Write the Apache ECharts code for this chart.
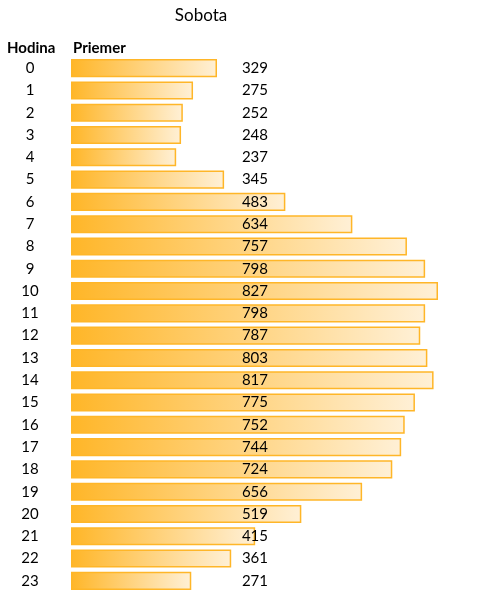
<!DOCTYPE html>
<html lang="sk">
	<head>
		<meta charset="utf-8" />
		<title>Sobota</title>
		<script type="text/javascript" src="https://cdn.jsdelivr.net/npm/echarts@6/dist/echarts.min.js"></script>
		<style>
			html, body { margin: 0; padding: 0; background: #fff; }
			#chart { width: 502px; height: 595px; }
		</style>
	</head>
	<body>
		<div id="chart"></div>
		<script type="text/javascript">
			//hodiny
			const hours = ['0','1','2','3','4','5','6','7','8','9','10','11','12','13','14','15','16','17','18','19','20','21','22','23'];
			//priemer
			const averages = [329,275,252,248,237,345,483,634,757,798,827,798,787,803,817,775,752,744,724,656,519,415,361,271];

			const font = 'Lato, "Open Sans", sans-serif';
			const chart = echarts.init(document.getElementById('chart'));
			const opt = {
				animation: false,
				title: [{
					text: 'Sobota',
					left: 201,
					top: 7,
					padding: 0,
					textAlign: 'center',
					textStyle: { fontFamily: font, fontSize: 17, fontWeight: 'normal', color: '#000' }
				}, {
					text: 'Hodina',
					left: 7,
					top: 41,
					padding: 0,
					textStyle: { fontFamily: font, fontSize: 15, fontWeight: 'bold', color: '#000' }
				}, {
					text: 'Priemer',
					left: 73,
					top: 41,
					padding: 0,
					textStyle: { fontFamily: font, fontSize: 15, fontWeight: 'bold', color: '#000' }
				}],
				grid: { left: 71, right: 31.6, top: 57, bottom: 3 },
				xAxis: {
					type: 'value',
					min: 0,
					max: 900,
					show: false
				},
				yAxis: {
					type: 'category',
					inverse: true,
					data: hours,
					axisLine: { show: false },
					axisTick: { show: false },
					splitLine: { show: false },
					axisLabel: {
						align: 'center',
						margin: 41,
						fontFamily: font,
						fontSize: 15,
						color: '#000'
					}
				},
				series: [{
					type: 'bar',
					data: averages,
					barCategoryGap: '19%',
					itemStyle: {
						color: new echarts.graphic.LinearGradient(0, 0, 1, 0, [
							{ offset: 0, color: '#FFB628' },
							{ offset: 1, color: '#FFF0D6' }
						]),
						borderColor: '#FFB628',
						borderWidth: 1.5
					},
					label: {
						show: true,
						position: [197, '50%'],
						align: 'right',
						verticalAlign: 'middle',
						fontFamily: font,
						fontSize: 15,
						color: '#000'
					}
				}]
			};
			chart.setOption(opt);
		</script>
	</body>
</html>
